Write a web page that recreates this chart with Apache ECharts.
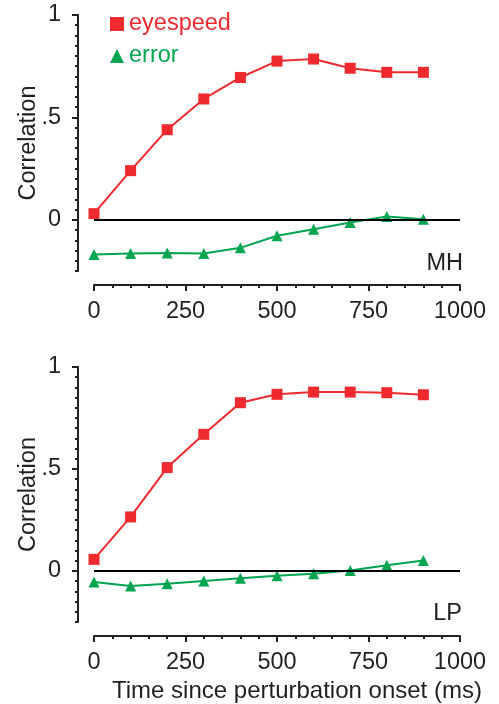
<!DOCTYPE html>
<html>
<head>
<meta charset="utf-8">
<script src="https://cdn.jsdelivr.net/npm/echarts@6/dist/echarts.min.js"></script>
<style>
  html, body { margin: 0; padding: 0; background: #fff; }
  #chart { width: 499px; height: 704px; }
</style>
</head>
<body>
<div id="chart"></div>
<script>
(function () {
  // time since perturbation onset (ms)
  const times = [0, 100, 200, 300, 400, 500, 600, 700, 800, 900];
  // MH panel
  const mhEyespeed = [0.03, 0.24, 0.44, 0.59, 0.695, 0.775, 0.785, 0.74, 0.72, 0.72];
  const mhError = [-0.17, -0.165, -0.162, -0.165, -0.137, -0.078, -0.046, -0.013, 0.016, 0.003];
  // LP panel
  const lpEyespeed = [0.057, 0.265, 0.507, 0.67, 0.825, 0.866, 0.877, 0.877, 0.874, 0.864];
  const lpError = [-0.054, -0.074, -0.062, -0.049, -0.036, -0.023, -0.013, 0.003, 0.028, 0.052];
  const yMajor = [0, 0.5, 1];
  const yLabels = { "0": "0", "0.5": ".5", "1": "1" };
  const xTicks = [0, 250, 500, 750, 1000];

  const red = "#ee2a2f";
  const green = "#00a54f";
  const ink = "#231f20";
  const font = "'Liberation Sans', Arial, sans-serif";

  let dom = document.querySelector("#chart");
  let myChart = echarts.init(dom);

  const pairs = (vals) => times.map((t, i) => [t, vals[i]]);

  // y axis with short ticks every .05
  function yMinor(gridIndex) {
    return {
      type: "value",
      gridIndex: gridIndex,
      min: -0.25,
      max: 1,
      interval: 0.05,
      position: "left",
      offset: 16,
      name: "Correlation",
      nameLocation: "middle",
      nameGap: 37,
      nameTextStyle: { color: ink, fontSize: 23.5, fontFamily: font },
      axisLine: { show: true, onZero: false, lineStyle: { color: ink, width: 2 } },
      axisTick: { show: true, length: 3, lineStyle: { color: ink, width: 2 } },
      axisLabel: { show: false },
      splitLine: { show: false }
    };
  }
  // overlay axis: long ticks and labels at 0, .5, 1
  function yMajorAxis(gridIndex) {
    return {
      type: "value",
      gridIndex: gridIndex,
      min: -0.25,
      max: 1,
      interval: 0.05,
      position: "left",
      offset: 16,
      axisLine: { show: false, onZero: false },
      axisTick: { show: true, length: 6, customValues: yMajor, lineStyle: { color: ink, width: 2 } },
      axisLabel: {
        show: true,
        customValues: yMajor,
        margin: 17,
        color: ink,
        fontSize: 23.5,
        fontFamily: font,
        formatter: (v) => yLabels[String(Math.round(v * 100) / 100)] || ""
      },
      splitLine: { show: false }
    };
  }
  function xAxis(gridIndex) {
    return {
      type: "value",
      gridIndex: gridIndex,
      min: 0,
      max: 1000,
      interval: 250,
      position: "bottom",
      offset: 14,
      axisLine: { show: true, onZero: false, lineStyle: { color: ink, width: 2 } },
      axisTick: { show: true, length: 6, lineStyle: { color: ink, width: 2 } },
      minorTick: { show: true, splitNumber: 5, length: 3, lineStyle: { color: ink, width: 2 } },
      axisLabel: {
        margin: 15,
        color: ink,
        fontSize: 23.5,
        fontFamily: font,
        customValues: xTicks,
        formatter: (v) => String(v)
      },
      splitLine: { show: false }
    };
  }
  function line(name, vals, color, symbol, xi, yi, zeroLine) {
    let s = {
      name: name,
      type: "line",
      xAxisIndex: xi,
      yAxisIndex: yi,
      data: pairs(vals),
      symbol: symbol,
      symbolSize: 11,
      showSymbol: true,
      color: color,
      lineStyle: { color: color, width: 2 },
      itemStyle: { color: color },
      emphasis: { disabled: true },
      animation: false
    };
    if (zeroLine) {
      s.markLine = {
        silent: true,
        symbol: ["none", "none"],
        label: { show: false },
        lineStyle: { color: "#000", width: 2, type: "solid" },
        data: [{ yAxis: 0 }]
      };
    }
    return s;
  }

  let options = {
    animation: false,
    grid: [
      { left: 94, right: 39, top: 15, height: 256 },
      { left: 94, right: 39, top: 367, height: 255 }
    ],
    legend: {
      orient: "vertical",
      left: 105,
      top: 7,
      itemWidth: 14,
      itemHeight: 14,
      itemGap: 8,
      textStyle: { fontSize: 23.5, fontFamily: font },
      data: [
        { name: "eyespeed", icon: "rect", textStyle: { color: red } },
        { name: "error", icon: "triangle", textStyle: { color: green } }
      ]
    },
    xAxis: [xAxis(0), xAxis(1)],
    yAxis: [yMinor(0), yMajorAxis(0), yMinor(1), yMajorAxis(1)],
    graphic: [
      { type: "text", right: 36, top: 252, style: { text: "MH", fill: ink, fontSize: 23.5, fontFamily: font } },
      { type: "text", right: 37, top: 602, style: { text: "LP", fill: ink, fontSize: 23.5, fontFamily: font } },
      { type: "text", left: 112, top: 679, style: { text: "Time since perturbation onset (ms)", fill: ink, fontSize: 24, fontFamily: font } }
    ],
    series: [
      line("eyespeed", mhEyespeed, red, "rect", 0, 0, true),
      line("error", mhError, green, "triangle", 0, 0, false),
      line("eyespeed", lpEyespeed, red, "rect", 1, 2, true),
      line("error", lpError, green, "triangle", 1, 2, false)
    ]
  };
  myChart.setOption(options);
  window.addEventListener("resize", () => {
    myChart.resize();
  });
})();
</script>
</body>
</html>
